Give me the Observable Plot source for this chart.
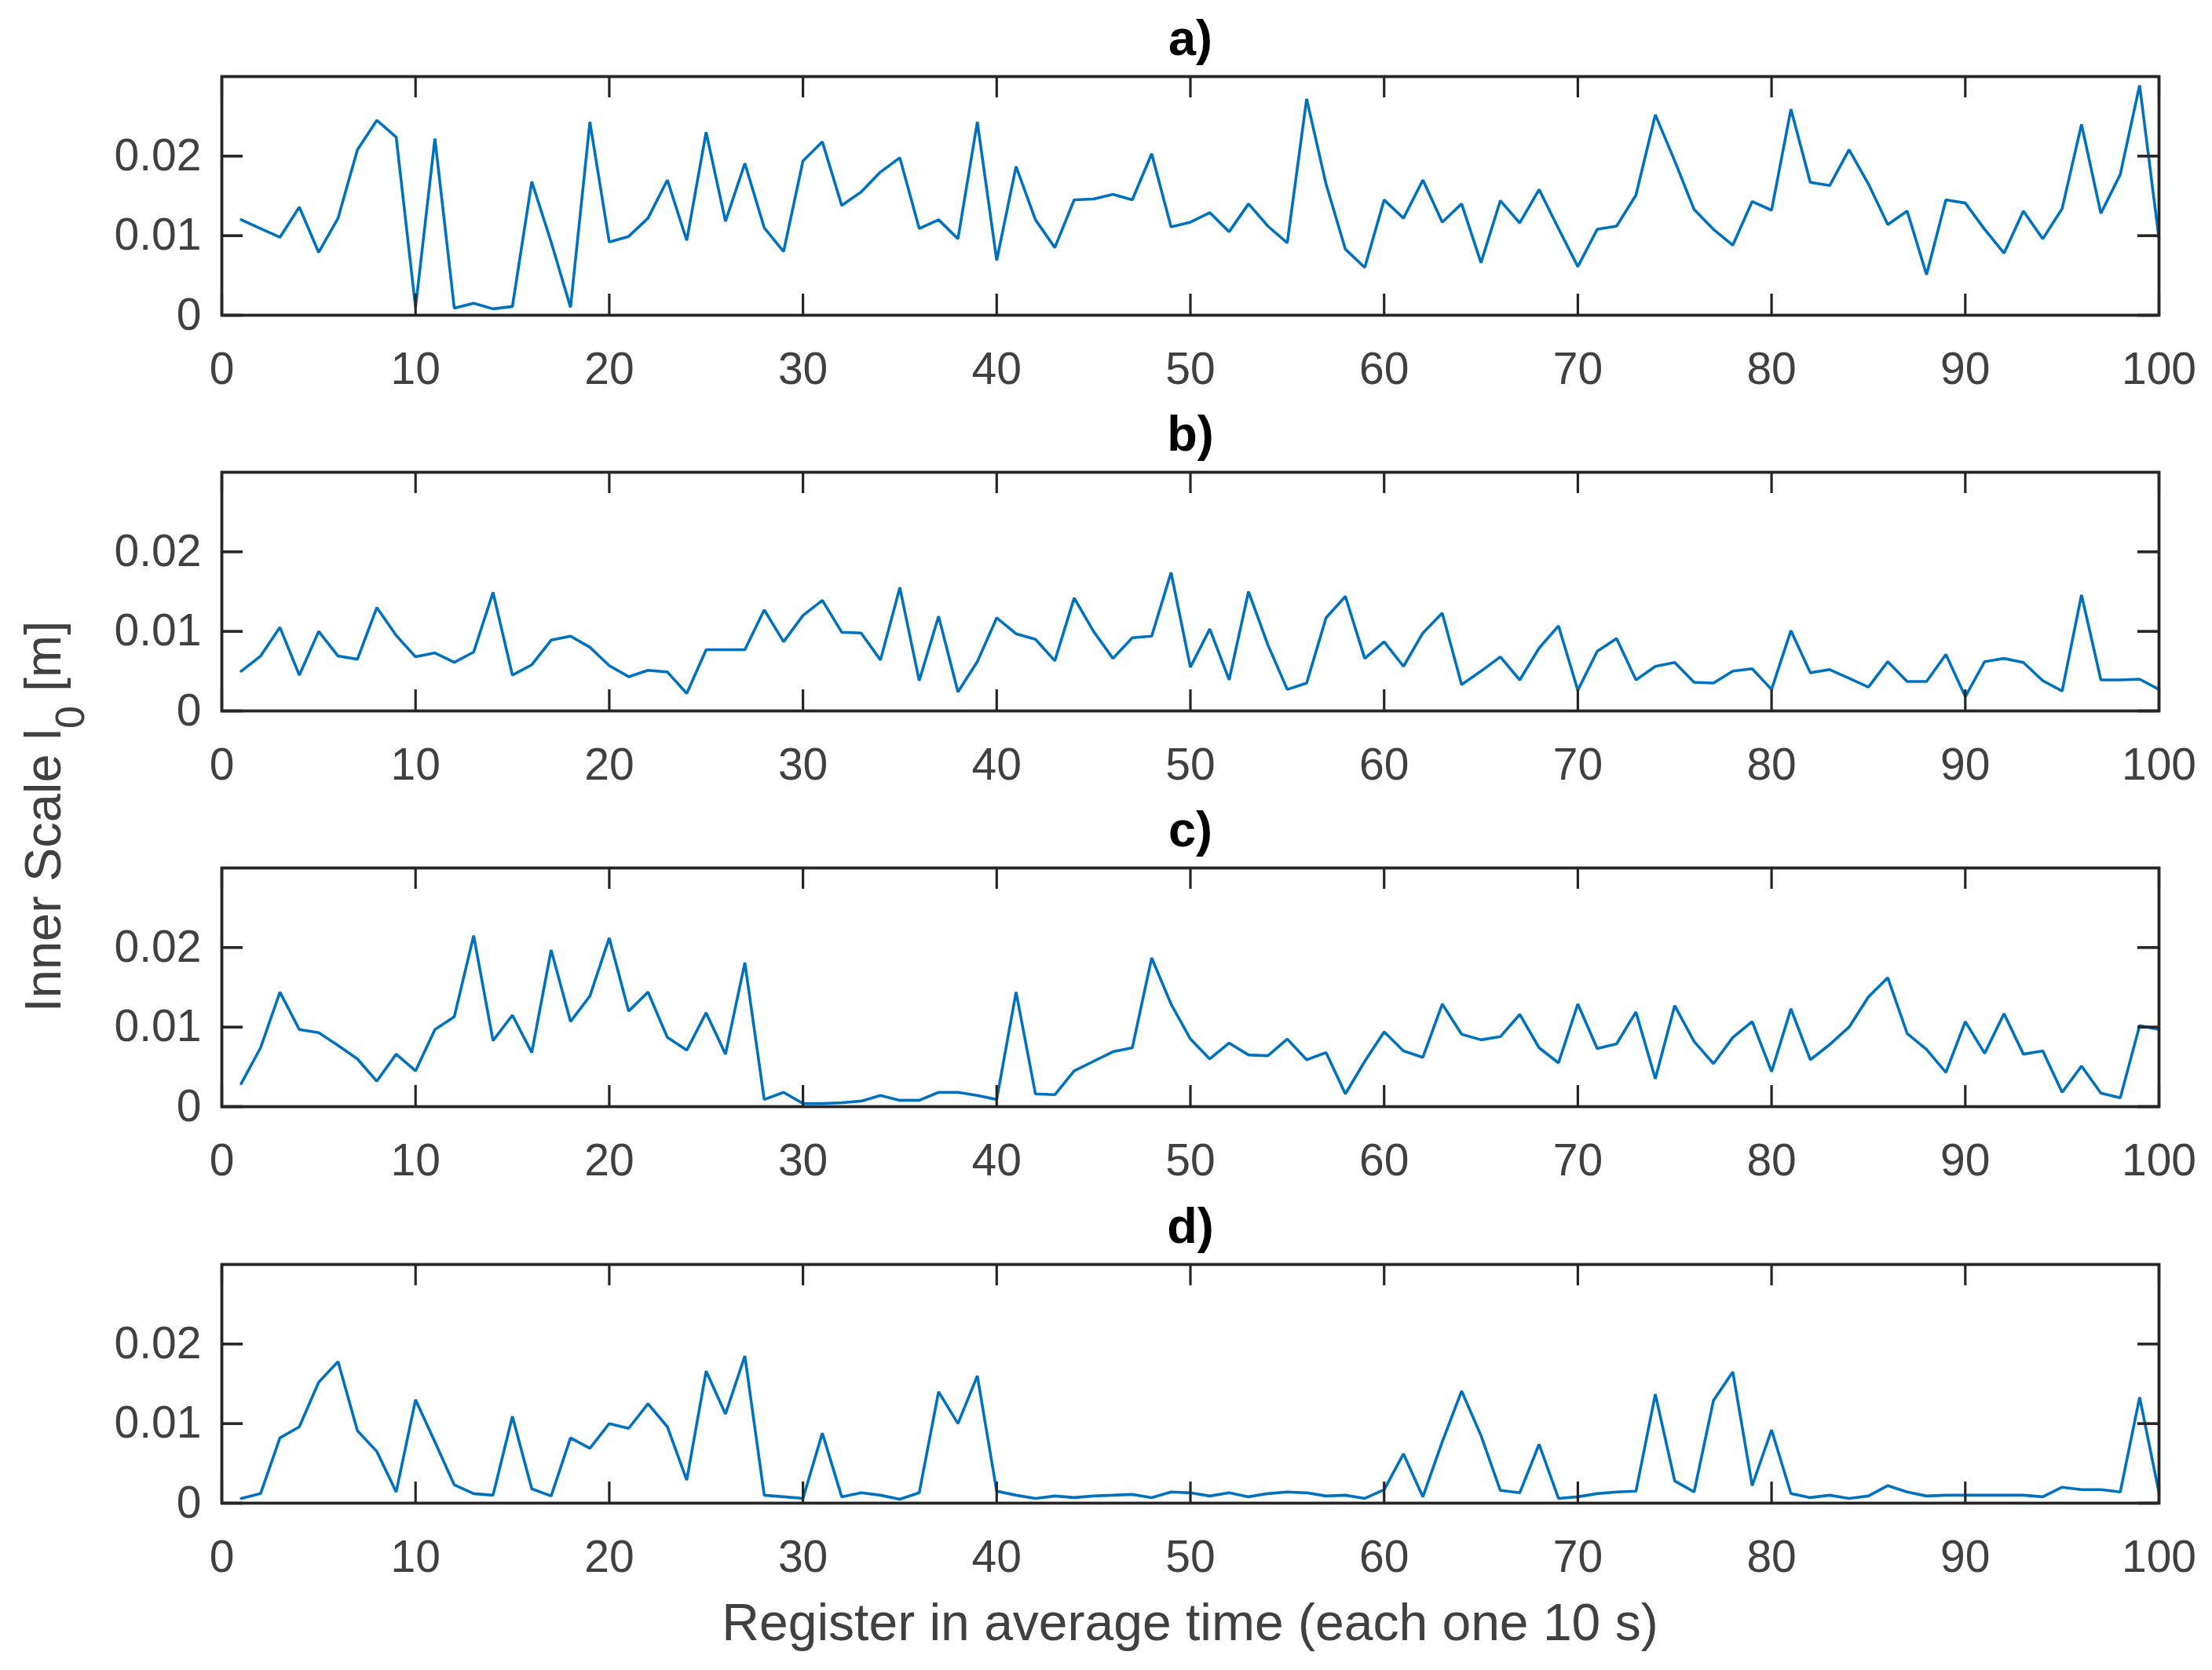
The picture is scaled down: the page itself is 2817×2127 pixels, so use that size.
<!DOCTYPE html>
<html>
<head>
<meta charset="utf-8">
<script src="https://cdn.jsdelivr.net/npm/d3@7"></script>
<script src="https://cdn.jsdelivr.net/npm/@observablehq/plot@0.6"></script>
<style>
  html, body { margin: 0; padding: 0; background: #ffffff; }
  #page { position: relative; width: 2817px; height: 2127px; background: #ffffff; overflow: hidden; }
  .panel { position: absolute; left: 0; }
  #overlay { position: absolute; left: 0; top: 0; pointer-events: none; }
</style>
</head>
<body>
<div id="page"></div>
<script>
// ---------- data ----------
const register = d3.range(1, 101);
const xTicks = [0, 10, 20, 30, 40, 50, 60, 70, 80, 90, 100];
const yTicks = [0, 0.01, 0.02];
const titles = ["a)", "b)", "c)", "d)"];
const yLabel = "Inner Scale l";
const yLabelSub = "0";
const yLabelUnit = " [m]";
const xLabel = "Register in average time (each one 10 s)";

const seriesA = [
  0.0120, 0.0109, 0.0098, 0.0136, 0.0079, 0.0122, 0.0208, 0.0245, 0.0224, 0.0010,
  0.0222, 0.0009, 0.0015, 0.0008, 0.0011, 0.0168, 0.0092, 0.0010, 0.0243, 0.0092,
  0.0099, 0.0122, 0.0170, 0.0094, 0.0230, 0.0118, 0.0191, 0.0110, 0.0080, 0.0194,
  0.0218, 0.0138, 0.0155, 0.0180, 0.0198, 0.0109, 0.0120, 0.0096, 0.0243, 0.0069,
  0.0187, 0.0120, 0.0085, 0.0145, 0.0146, 0.0152, 0.0145, 0.0203, 0.0111, 0.0117,
  0.0129, 0.0105, 0.0140, 0.0112, 0.0091, 0.0272, 0.0165, 0.0083, 0.0060, 0.0145,
  0.0122, 0.0170, 0.0117, 0.0140, 0.0066, 0.0144, 0.0116, 0.0158, 0.0109, 0.0061,
  0.0108, 0.0112, 0.0151, 0.0252, 0.0194, 0.0133, 0.0108, 0.0088, 0.0143, 0.0132,
  0.0259, 0.0167, 0.0163, 0.0208, 0.0165, 0.0114, 0.0131, 0.0051, 0.0145, 0.0141,
  0.0108, 0.0078, 0.0131, 0.0096, 0.0134, 0.0240, 0.0128, 0.0177, 0.0289, 0.0096
];
const seriesB = [
  0.0050, 0.0069, 0.0105, 0.0045, 0.0100, 0.0069, 0.0065, 0.0130, 0.0095, 0.0068,
  0.0073, 0.0061, 0.0074, 0.0149, 0.0045, 0.0058, 0.0089, 0.0094, 0.0080, 0.0057,
  0.0043, 0.0051, 0.0049, 0.0022, 0.0077, 0.0077, 0.0077, 0.0127, 0.0087, 0.0120,
  0.0139, 0.0099, 0.0098, 0.0064, 0.0155, 0.0038, 0.0119, 0.0024, 0.0062, 0.0117,
  0.0097, 0.0090, 0.0063, 0.0142, 0.0100, 0.0066, 0.0092, 0.0094, 0.0174, 0.0055,
  0.0103, 0.0039, 0.0150, 0.0083, 0.0027, 0.0035, 0.0117, 0.0144, 0.0066, 0.0087,
  0.0056, 0.0098, 0.0123, 0.0033, 0.0050, 0.0068, 0.0039, 0.0079, 0.0107, 0.0026,
  0.0075, 0.0091, 0.0039, 0.0056, 0.0061, 0.0036, 0.0035, 0.0050, 0.0053, 0.0027,
  0.0101, 0.0048, 0.0052, 0.0041, 0.0030, 0.0062, 0.0037, 0.0037, 0.0071, 0.0018,
  0.0062, 0.0066, 0.0061, 0.0038, 0.0025, 0.0146, 0.0039, 0.0039, 0.0040, 0.0027
];
const seriesC = [
  0.0029, 0.0074, 0.0144, 0.0097, 0.0093, 0.0077, 0.0060, 0.0032, 0.0066, 0.0045,
  0.0097, 0.0113, 0.0215, 0.0083, 0.0115, 0.0068, 0.0197, 0.0107, 0.0139, 0.0212,
  0.0120, 0.0144, 0.0087, 0.0071, 0.0118, 0.0066, 0.0181, 0.0009, 0.0018, 0.0004,
  0.0004, 0.0005, 0.0007, 0.0014, 0.0008, 0.0008, 0.0018, 0.0018, 0.0014, 0.0009,
  0.0144, 0.0016, 0.0015, 0.0045, 0.0057, 0.0069, 0.0074, 0.0187, 0.0129, 0.0085,
  0.0060, 0.0080, 0.0065, 0.0064, 0.0085, 0.0059, 0.0068, 0.0016, 0.0057, 0.0094,
  0.0070, 0.0062, 0.0129, 0.0091, 0.0084, 0.0088, 0.0116, 0.0074, 0.0055, 0.0129,
  0.0073, 0.0079, 0.0119, 0.0035, 0.0127, 0.0082, 0.0054, 0.0087, 0.0107, 0.0044,
  0.0123, 0.0059, 0.0078, 0.0100, 0.0138, 0.0162, 0.0092, 0.0072, 0.0043, 0.0107,
  0.0067, 0.0117, 0.0066, 0.0070, 0.0018, 0.0051, 0.0017, 0.0011, 0.0102, 0.0097
];
const seriesD = [
  0.0006, 0.0012, 0.0082, 0.0096, 0.0152, 0.0178, 0.0091, 0.0065, 0.0014, 0.0130,
  0.0077, 0.0023, 0.0012, 0.0010, 0.0109, 0.0018, 0.0009, 0.0082, 0.0069, 0.0100,
  0.0094, 0.0125, 0.0096, 0.0029, 0.0166, 0.0112, 0.0185, 0.0010, 0.0008, 0.0006,
  0.0088, 0.0008, 0.0013, 0.0010, 0.0005, 0.0013, 0.0140, 0.0100, 0.0160, 0.0015,
  0.0010, 0.0006, 0.0009, 0.0007, 0.0009, 0.0010, 0.0011, 0.0007, 0.0014, 0.0013,
  0.0009, 0.0013, 0.0008, 0.0012, 0.0014, 0.0013, 0.0009, 0.0010, 0.0006, 0.0017,
  0.0062, 0.0008, 0.0077, 0.0141, 0.0085, 0.0016, 0.0013, 0.0074, 0.0006, 0.0008,
  0.0012, 0.0014, 0.0015, 0.0137, 0.0028, 0.0014, 0.0129, 0.0165, 0.0022, 0.0092,
  0.0012, 0.0007, 0.0010, 0.0006, 0.0009, 0.0022, 0.0014, 0.0009, 0.0010, 0.0010,
  0.0010, 0.0010, 0.0010, 0.0008, 0.0020, 0.0017, 0.0017, 0.0014, 0.0133, 0.0013
];
const allSeries = [seriesA, seriesB, seriesC, seriesD];

// ---------- layout ----------
const W = 2817, H = 2127;
const FONT = "'Liberation Sans', Arial, Helvetica, sans-serif";
const AX = "#262626";
const TXT = "#404040";
const LINE = "#0072BD";
const mL = 282, mR = 68, mT = 97, frameH = 304, svgH = 504;
const frameW = W - mL - mR;
const tickLen = 27;
const panelTops = [0, 504, 1008, 1513];

const page = document.getElementById("page");

allSeries.forEach((vals, k) => {
  const data = register.map((r, i) => ({r, v: vals[i]}));
  const chart = Plot.plot({
    width: W,
    height: svgH,
    marginLeft: mL,
    marginRight: mR,
    marginTop: mT,
    marginBottom: svgH - mT - frameH,
    style: {fontFamily: FONT, fontSize: "57px", color: TXT, background: "transparent", overflow: "visible"},
    x: {domain: [0, 100]},
    y: {domain: [0, 0.03]},
    marks: [
      Plot.line(data, {x: "r", y: "v", stroke: LINE, strokeWidth: 3.6, strokeLinejoin: "miter"}),
      Plot.ruleX(xTicks, {x: d => d, stroke: AX, strokeWidth: 3.2, insetTop: frameH - tickLen}),
      Plot.ruleX(xTicks, {x: d => d, stroke: AX, strokeWidth: 3.2, insetBottom: frameH - tickLen}),
      Plot.ruleY(yTicks, {y: d => d, stroke: AX, strokeWidth: 3.6, insetRight: frameW - tickLen}),
      Plot.ruleY(yTicks, {y: d => d, stroke: AX, strokeWidth: 3.6, insetLeft: frameW - tickLen}),
      Plot.frame({stroke: AX, strokeWidth: 3.8}),
      Plot.axisX(xTicks, {tickSize: 0, tickPadding: 47, label: null, fill: TXT, fontSize: 57}),
      Plot.axisY(yTicks, {tickSize: 0, tickPadding: 26, label: null, fill: TXT, fontSize: 57,
        tickFormat: d => d === 0 ? "0" : d3.format(".2f")(d)}),
      Plot.text([titles[k]], {frameAnchor: "top", lineAnchor: "bottom", dy: -28,
        text: d => d, fontWeight: "bold", fontSize: 63, fill: "#000000"})
    ]
  });
  const holder = document.createElement("div");
  holder.className = "panel";
  holder.style.top = panelTops[k] + "px";
  holder.appendChild(chart);
  page.appendChild(holder);
});

// ---------- shared axis labels ----------
const ns = "http://www.w3.org/2000/svg";
const ov = document.createElementNS(ns, "svg");
ov.setAttribute("id", "overlay");
ov.setAttribute("width", W);
ov.setAttribute("height", H);
ov.style.fontFamily = FONT;

const xl = document.createElementNS(ns, "text");
xl.setAttribute("x", mL + frameW / 2);
xl.setAttribute("y", 2089);
xl.setAttribute("text-anchor", "middle");
xl.setAttribute("font-size", "66");
xl.setAttribute("fill", TXT);
xl.textContent = xLabel;
ov.appendChild(xl);

const yl = document.createElementNS(ns, "text");
yl.setAttribute("transform", "translate(77,1040) rotate(-90)");
yl.setAttribute("text-anchor", "middle");
yl.setAttribute("font-size", "65");
yl.setAttribute("fill", TXT);
const t1 = document.createElementNS(ns, "tspan");
t1.textContent = yLabel;
const t2 = document.createElementNS(ns, "tspan");
t2.setAttribute("dy", "30");
t2.setAttribute("font-size", "52");
t2.textContent = yLabelSub;
const t3 = document.createElementNS(ns, "tspan");
t3.setAttribute("dy", "-30");
t3.textContent = yLabelUnit;
yl.appendChild(t1); yl.appendChild(t2); yl.appendChild(t3);
ov.appendChild(yl);

page.appendChild(ov);
</script>
</body>
</html>
